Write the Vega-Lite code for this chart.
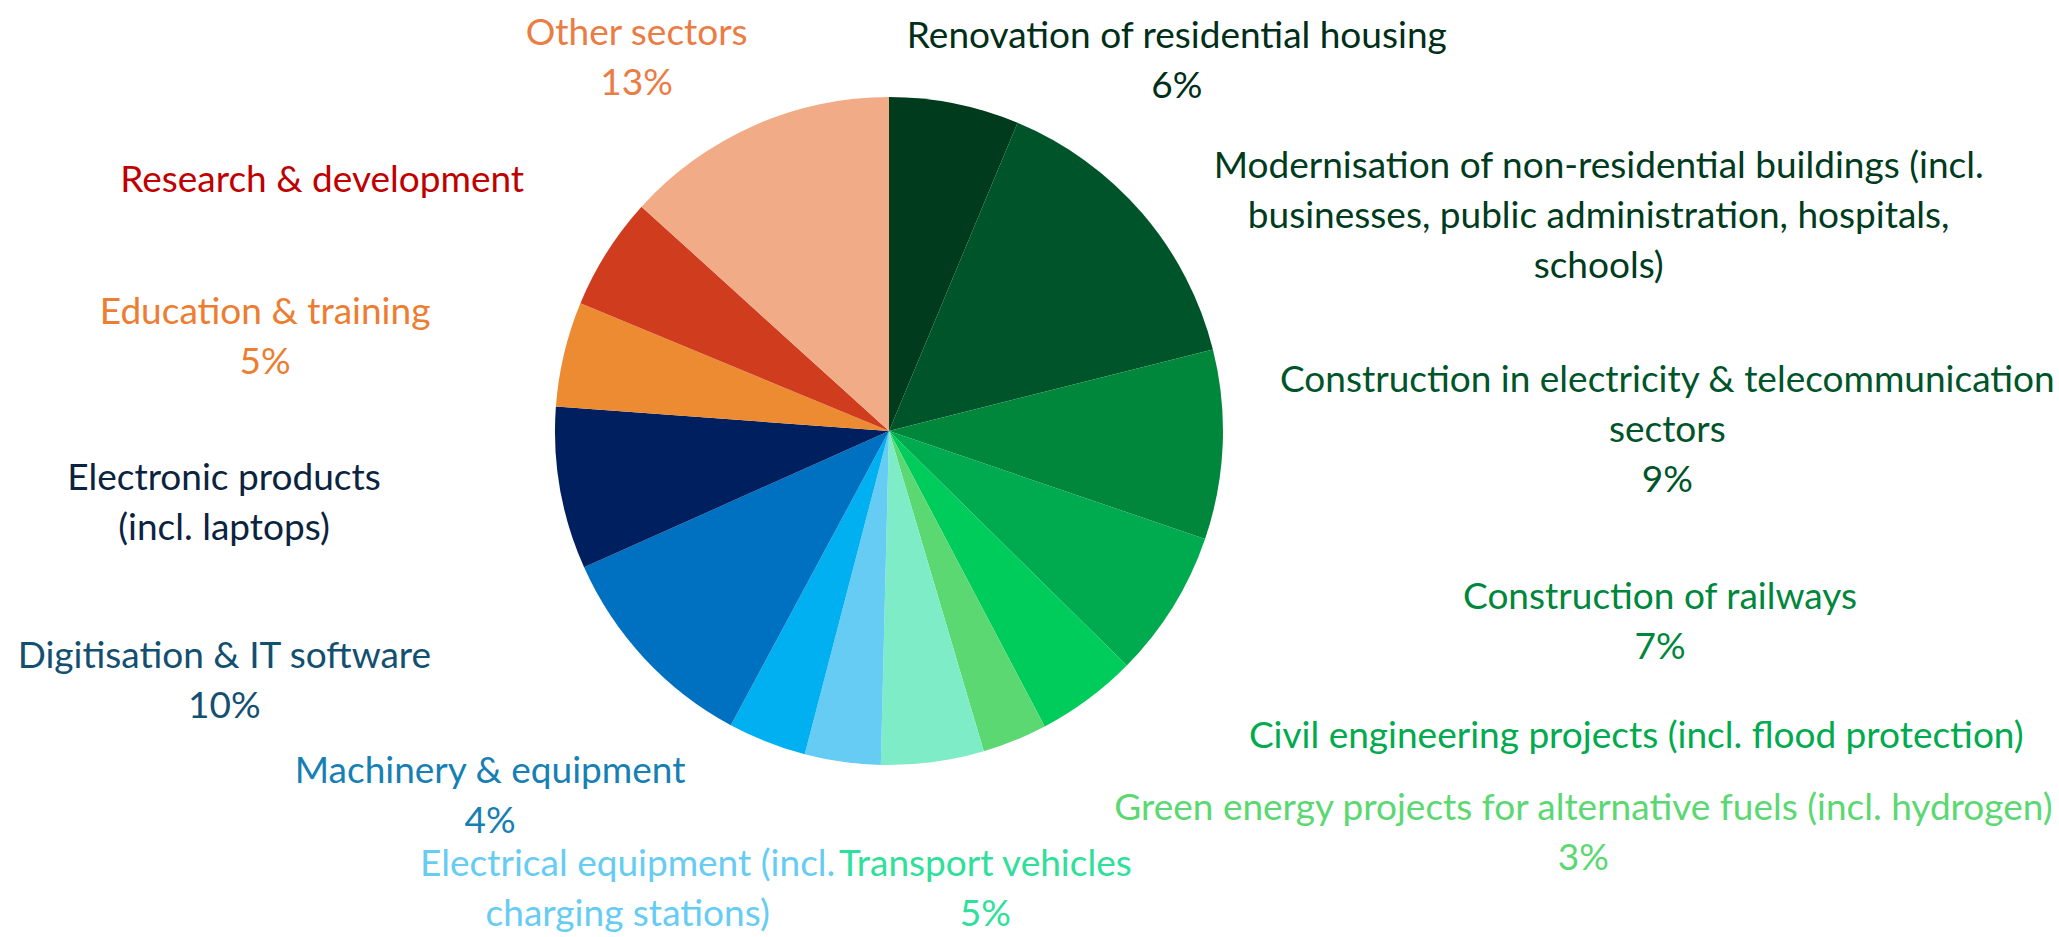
{
  "$schema": "https://vega.github.io/schema/vega-lite/v6.json",
  "width": 1778,
  "height": 862,
  "autosize": {"type": "none"},
  "padding": {"left": 0, "top": 0, "right": 281, "bottom": 75},
  "background": "white",
  "view": {"stroke": null},
  "config": {"text": {"font": "Lato", "fontSize": 37, "lineHeight": 50, "align": "center", "baseline": "alphabetic", "lineBreak": "\n"}},
  "data": {"values": [
    {"idx": 1, "sector": "Renovation of residential housing", "share": 6.29, "label": "Renovation of residential housing\n6%"},
    {"idx": 2, "sector": "Modernisation of non-residential buildings", "share": 14.79, "label": "Modernisation of non-residential buildings (incl.\nbusinesses, public administration, hospitals,\nschools)"},
    {"idx": 3, "sector": "Construction in electricity & telecommunication sectors", "share": 9.16, "label": "Construction in electricity & telecommunication\nsectors\n9%"},
    {"idx": 4, "sector": "Construction of railways", "share": 7.15, "label": "Construction of railways\n7%"},
    {"idx": 5, "sector": "Civil engineering projects", "share": 4.89, "label": "Civil engineering projects (incl. flood protection)"},
    {"idx": 6, "sector": "Green energy projects for alternative fuels", "share": 3.14, "label": "Green energy projects for alternative fuels (incl. hydrogen)\n3%"},
    {"idx": 7, "sector": "Transport vehicles", "share": 4.97, "label": "Transport vehicles\n5%"},
    {"idx": 8, "sector": "Electrical equipment", "share": 3.67, "label": "Electrical equipment (incl.\ncharging stations)"},
    {"idx": 9, "sector": "Machinery & equipment", "share": 3.79, "label": "Machinery & equipment\n4%"},
    {"idx": 10, "sector": "Digitisation & IT software", "share": 10.46, "label": "Digitisation & IT software\n10%"},
    {"idx": 11, "sector": "Electronic products", "share": 7.86, "label": "Electronic products\n(incl. laptops)"},
    {"idx": 12, "sector": "Education & training", "share": 5.08, "label": "Education & training\n5%"},
    {"idx": 13, "sector": "Research & development", "share": 5.47, "label": "Research & development"},
    {"idx": 14, "sector": "Other sectors", "share": 13.28, "label": "Other sectors\n13%"}
  ]},
  "encoding": {
    "theta": {"field": "share", "type": "quantitative", "stack": true},
    "order": {"field": "idx", "type": "quantitative"}
  },
  "layer": [
    {
      "mark": {"type": "arc", "outerRadius": 334},
      "encoding": {
        "color": {
          "field": "sector", "type": "nominal", "legend": null,
          "scale": {
            "domain": ["Renovation of residential housing", "Modernisation of non-residential buildings", "Construction in electricity & telecommunication sectors", "Construction of railways", "Civil engineering projects", "Green energy projects for alternative fuels", "Transport vehicles", "Electrical equipment", "Machinery & equipment", "Digitisation & IT software", "Electronic products", "Education & training", "Research & development", "Other sectors"],
            "range": ["#003B1E", "#00542A", "#00873C", "#00AA4E", "#00CC5C", "#5CD873", "#7EECC6", "#66CCF3", "#00B0F0", "#0070C0", "#001F5F", "#ED8B32", "#D03C1E", "#F1AB87"]
          }
        }
      }
    },
    {"mark": {"type": "text", "radius": 432, "dx": 203, "dy": 41, "color": "#002E18"}, "encoding": {"text": {"condition": {"test": "datum.idx == 1", "field": "label"}, "value": ""}}},
    {"mark": {"type": "text", "radius": 703, "dx": 177, "dy": 206, "color": "#003B1E"}, "encoding": {"text": {"condition": {"test": "datum.idx == 2", "field": "label"}, "value": ""}}},
    {"mark": {"type": "text", "radius": 776, "dx": 3, "dy": -71, "color": "#00542A"}, "encoding": {"text": {"condition": {"test": "datum.idx == 3", "field": "label"}, "value": ""}}},
    {"mark": {"type": "text", "radius": 749, "dx": 134, "dy": -216, "color": "#00873C"}, "encoding": {"text": {"condition": {"test": "datum.idx == 4", "field": "label"}, "value": ""}}},
    {"mark": {"type": "text", "radius": 700, "dx": 330, "dy": -245, "color": "#00AA4E"}, "encoding": {"text": {"condition": {"test": "datum.idx == 5", "field": "label"}, "value": ""}}},
    {"mark": {"type": "text", "radius": 622, "dx": 460, "dy": -187, "color": "#5CD873"}, "encoding": {"text": {"condition": {"test": "datum.idx == 6", "field": "label"}, "value": ""}}},
    {"mark": {"type": "text", "radius": 460, "dx": 36, "dy": -11, "color": "#2EE09A"}, "encoding": {"text": {"condition": {"test": "datum.idx == 7", "field": "label"}, "value": ""}}},
    {"mark": {"type": "text", "radius": 483, "dx": -194, "dy": -33, "color": "#66CCF3"}, "encoding": {"text": {"condition": {"test": "datum.idx == 8", "field": "label"}, "value": ""}}},
    {"mark": {"type": "text", "radius": 473, "dx": -226, "dy": -88, "color": "#1680B5"}, "encoding": {"text": {"condition": {"test": "datum.idx == 9", "field": "label"}, "value": ""}}},
    {"mark": {"type": "text", "radius": 648, "dx": -190, "dy": -204, "color": "#124F70"}, "encoding": {"text": {"condition": {"test": "datum.idx == 10", "field": "label"}, "value": ""}}},
    {"mark": {"type": "text", "radius": 665, "dx": -10, "dy": -56, "color": "#0C2340"}, "encoding": {"text": {"condition": {"test": "datum.idx == 11", "field": "label"}, "value": ""}}},
    {"mark": {"type": "text", "radius": 632, "dx": -9, "dy": 39, "color": "#ED7D31"}, "encoding": {"text": {"condition": {"test": "datum.idx == 12", "field": "label"}, "value": ""}}},
    {"mark": {"type": "text", "radius": 607, "dx": -54, "dy": 86, "color": "#C00000"}, "encoding": {"text": {"condition": {"test": "datum.idx == 13", "field": "label"}, "value": ""}}},
    {"mark": {"type": "text", "radius": 455, "dx": -68, "dy": 30, "color": "#EB7C44"}, "encoding": {"text": {"condition": {"test": "datum.idx == 14", "field": "label"}, "value": ""}}}
  ]
}
